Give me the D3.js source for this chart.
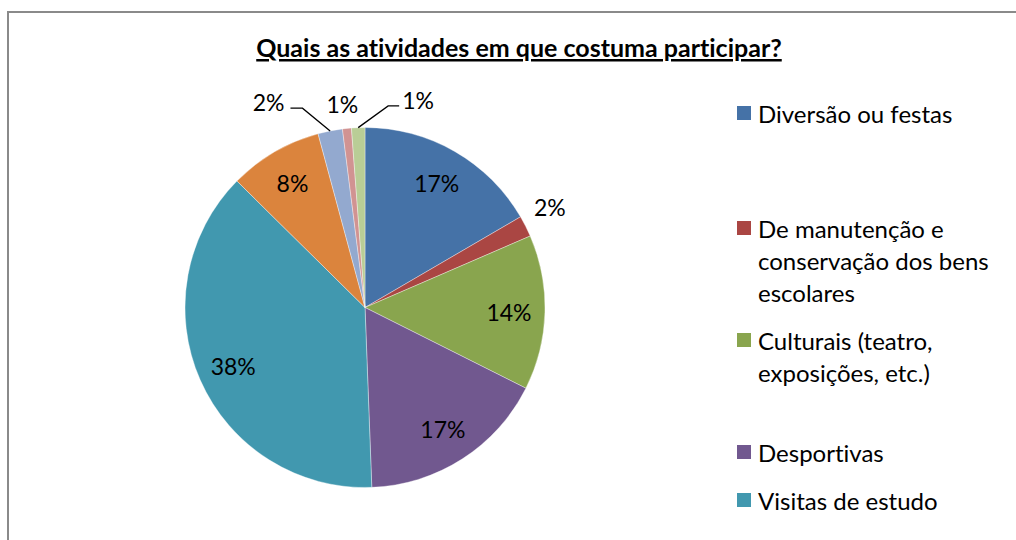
<!DOCTYPE html>
<html>
<head>
<meta charset="utf-8">
<script src="https://cdn.jsdelivr.net/npm/d3@7"></script>
<style>
  html, body { margin: 0; padding: 0; background: #fff; }
  svg { display: block; }
  text { font-variant-ligatures: none; font-feature-settings: "liga" 0, "clig" 0; }
</style>
</head>
<body>
<svg id="chart" width="1016" height="540"></svg>
<script>
// ---- Data ----
const title = "Quais as atividades em que costuma participar?";
const categories = [
  "Diversão ou festas",
  "De manutenção e conservação dos bens escolares",
  "Culturais (teatro, exposições, etc.)",
  "Desportivas",
  "Visitas de estudo",
  "Solidariedade e voluntariado",
  "Associação de estudantes",
  "Clubes e projetos",
  "Outras"
];
const legendLines = [
  ["Diversão ou festas"],
  ["De manutenção e", "conservação dos bens", "escolares"],
  ["Culturais (teatro,", "exposições, etc.)"],
  ["Desportivas"],
  ["Visitas de estudo"],
  ["Solidariedade e", "voluntariado"],
  ["Associação de", "estudantes"],
  ["Clubes e projetos"],
  ["Outras"]
];
const values = [16.6, 1.9, 13.9, 17.0, 38.0, 8.4, 2.2, 0.8, 1.2];
const colors = ["#4572A7", "#AA4643", "#89A54E", "#71588F", "#4198AF",
                "#DB843D", "#93A9CF", "#D19392", "#B9CD96"];

// ---- Layout ----
const W = 1016, H = 540;
const cx = 365, cy = 307.5, R = 180;
const svg = d3.select("#chart");
const FONT = "Lato, 'Open Sans', sans-serif";

// frame
svg.append("rect")
  .attr("x", 8).attr("y", 12)
  .attr("width", W + 20).attr("height", H + 20)
  .attr("fill", "none").attr("stroke", "#8a8a8a").attr("stroke-width", 2);

// title
svg.append("text")
  .attr("x", 519).attr("y", 57)
  .attr("text-anchor", "middle")
  .attr("font-family", FONT).attr("font-weight", "bold")
  .attr("font-size", 25).attr("fill", "#000")
  .attr("text-decoration", "underline")
  .text(title);

// pie
const data = values.map((v, i) => ({ name: categories[i], value: v, color: colors[i], i }));
const pie = d3.pie().value(d => d.value).sort(null);
const arcs = pie(data);
const arc = d3.arc().innerRadius(0).outerRadius(R);
const g = svg.append("g").attr("transform", `translate(${cx},${cy})`);

g.selectAll("path.slice").data(arcs).enter().append("path")
  .attr("class", "slice")
  .attr("d", arc)
  .attr("fill", d => d.data.color)
  .attr("stroke", "#ffffff").attr("stroke-width", 0.6).attr("stroke-opacity", 0.6);

// label placement: inside at 0.8R, or outside with polar offsets
const labelSpec = [
  { r: 0.8 }, { r: 1.17, da: -1.8 }, { r: 0.8 }, { r: 0.8 }, { r: 0.8 },
  { r: 0.8 }, { r: 1.26, da: -14, leader: "right" }, { r: 1.14, da: -0.6 },
  { r: 1.19, da: 16.5, leader: "left" }
];
const fmt = v => Math.round(v) + "%";
const toRad = deg => deg * Math.PI / 180;
const polar = (ang, r) => [Math.sin(ang) * r, -Math.cos(ang) * r];

arcs.forEach((a, i) => {
  const s = labelSpec[i];
  const mid = (a.startAngle + a.endAngle) / 2;
  const ang = mid + toRad(s.da || 0);
  const [lx, ly] = polar(ang, s.r * R);
  const lbl = g.append("text")
    .attr("x", lx).attr("y", ly)
    .attr("text-anchor", "middle").attr("dominant-baseline", "central")
    .attr("font-family", FONT).attr("font-size", 23).attr("fill", "#000")
    .text(fmt(a.data.value));
  if (s.leader) {
    const [ex, ey] = polar(mid, R);
    const halfW = lbl.node().getComputedTextLength() / 2;
    let x0, x1;
    if (s.leader === "right") { x0 = lx + halfW + 6; x1 = x0 + 12; }
    else { x0 = lx - halfW - 3; x1 = x0 - 11; }
    const yl = ly + 6;
    g.append("path")
      .attr("d", `M${ex},${ey}L${x1},${yl}L${x0},${yl}`)
      .attr("fill", "none").attr("stroke", "#000").attr("stroke-width", 1.3);
  }
});

// legend (the reference's legend is clipped by the chart frame: only entries inside are drawn)
const legendY = [113, 228, 340, 452, 500, 560, 620, 680, 720];
const lineH = 32;
const lg = svg.append("g");
categories.forEach((c, i) => {
  const y0 = legendY[i];
  const lines = legendLines[i];
  if (y0 + (lines.length - 1) * lineH + 12 > H) return;
  lg.append("rect")
    .attr("x", 737).attr("y", y0 - 7)
    .attr("width", 14).attr("height", 14)
    .attr("fill", colors[i]);
  const tx = lg.append("text")
    .attr("font-family", FONT).attr("font-size", 24).attr("fill", "#000");
  lines.forEach((ln, k) => {
    tx.append("tspan").attr("x", 758).attr("y", y0 + k * lineH)
      .attr("dominant-baseline", "central").text(ln);
  });
});
</script>
</body>
</html>
